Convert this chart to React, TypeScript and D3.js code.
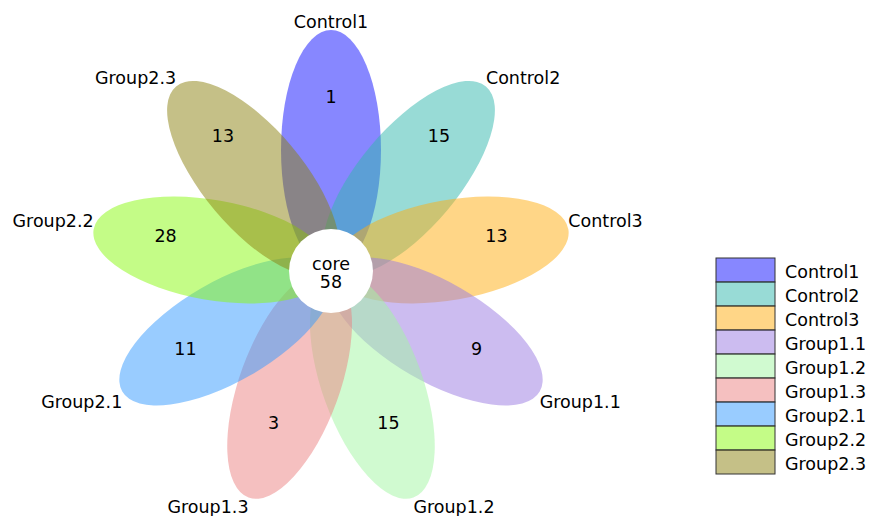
import React from "react";
import * as d3 from "d3";

const groups = ["Control1", "Control2", "Control3", "Group1.1", "Group1.2", "Group1.3", "Group2.1", "Group2.2", "Group2.3"];
const uniqueCounts = [1, 15, 13, 9, 15, 3, 11, 28, 13];
const coreCount = 58;
const baseColors = ["#0f0fff", "#31b7ad", "#ffad0f", "#9979e1", "#a1f5a1", "#eb8181", "#3399ff", "#89f90f", "#8b810f"];

const W = 871, H = 516;
const cx = 331, cy = 271;
const A = 120, B = 50, D = 121;
const FS = 17.5;

export default function App() {
  const angle = d3.scaleLinear().domain([0, groups.length]).range([-90, 270]);
  const rad = (deg: number) => (deg * Math.PI) / 180;
  const legendY = d3.scaleBand<string>().domain(groups).range([258, 474]).padding(0);

  return (
    <svg width={W} height={H} style={{ position: "absolute", left: 0, top: 0, fontFamily: "DejaVu Sans" }}>
      <rect width={W} height={H} fill="white" />
      {groups.map((g, i) => {
        const a = angle(i);
        const ex = cx + D * Math.cos(rad(a));
        const ey = cy + D * Math.sin(rad(a));
        return (
          <ellipse key={g} cx={ex} cy={ey} rx={A} ry={B} transform={`rotate(${a} ${ex} ${ey})`} fill={baseColors[i]} fillOpacity={0.5} />
        );
      })}
      {groups.map((g, i) => {
        const a = angle(i);
        const c = Math.cos(rad(a)), s = Math.sin(rad(a));
        const nx = cx + 168 * c, ny = cy + 168 * s;
        const tx = cx + (D + A) * c, ty = cy + (D + A) * s;
        const anchor = Math.abs(c) < 0.1 ? "middle" : c > 0 ? "start" : "end";
        const by = s < 0 ? ty - 2 : ty + 16;
        return (
          <g key={g}>
            <text x={nx} y={ny} textAnchor="middle" fontSize={FS} fill="#000">{uniqueCounts[i]}</text>
            <text x={tx} y={by} textAnchor={anchor} fontSize={FS} fill="#000">{g}</text>
          </g>
        );
      })}
      <circle cx={cx} cy={cy} r={42} fill="white" />
      <text x={cx} y={cy - 1} textAnchor="middle" fontSize={FS} fill="#000">core</text>
      <text x={cx} y={cy + 16.5} textAnchor="middle" fontSize={FS} fill="#000">{coreCount}</text>
      {groups.map((g, i) => {
        const y0 = legendY(g)!;
        const h = legendY.bandwidth();
        return (
          <g key={g}>
            <rect x={716} y={y0} width={59} height={h} fill={baseColors[i]} fillOpacity={0.5} stroke="#333" strokeWidth={1} />
            <text x={785} y={y0 + h / 2 + 8} fontSize={FS} fill="#000">{g}</text>
          </g>
        );
      })}
    </svg>
  );
}
